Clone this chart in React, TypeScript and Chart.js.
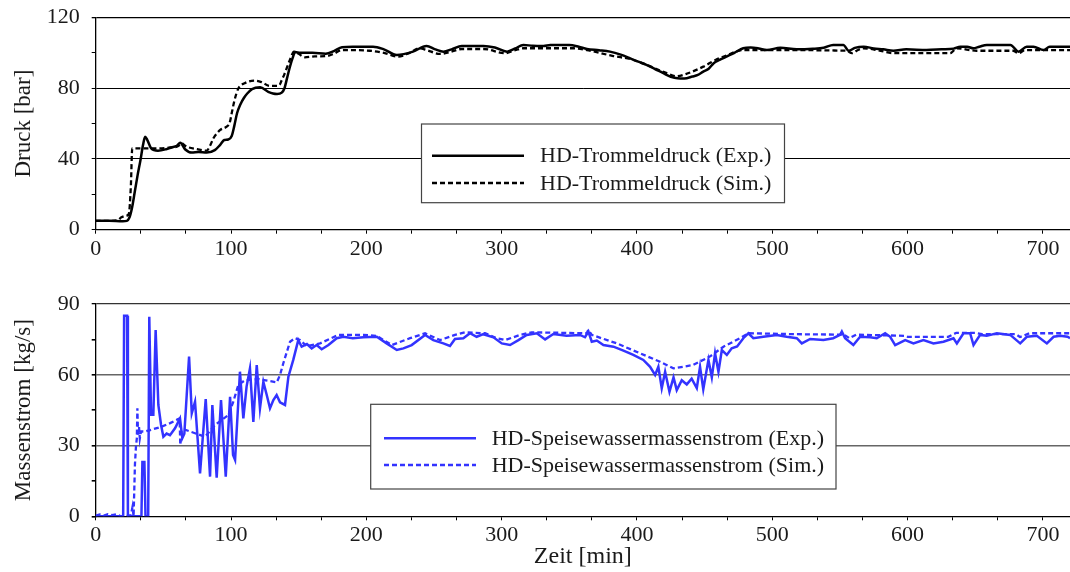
import React, { useEffect, useRef } from "react";
import { Chart, registerables } from "chart.js";

Chart.register(...registerables);

// ---- Data -----------------------------------------------------------------

// HD-Trommeldruck, Experiment [min, bar]
const druckExp: [number, number][] = [
  [0, 5], [10, 5], [20, 4.8], [23, 5], [25, 7], [27, 13], [29, 22], [31, 31], [33, 39], [35, 48],
  [36.5, 52.5], [38, 51], [41, 46], [46, 44.7], [52, 45.5], [56, 46.5], [60, 47.5], [62.5, 49.2],
  [66, 45.5], [71, 43.6], [76, 44], [82, 43.6], [88, 45], [92, 48], [95, 50.7], [98, 51],
  [100.5, 53], [102.5, 59], [104.5, 66], [107, 71], [109.5, 74.5], [112, 77], [115.5, 79.5],
  [121.5, 80.5], [127.5, 78], [131, 77], [134, 76.7], [137.5, 77.5], [139.5, 80], [141.5, 86],
  [143.5, 92], [145.5, 97], [147.5, 100.5], [151, 100], [160, 100], [170, 99.5], [176, 101],
  [182, 103.2], [190, 103.5], [205, 103.5], [213, 102], [222.5, 98.8], [234.5, 100.7],
  [244.5, 103.9], [251, 102], [257, 100.7], [263, 102], [270.5, 103.9], [286.5, 103.9],
  [295, 103], [304, 100.7], [310, 102.5], [316, 104.5], [323, 104], [331, 103.9], [336, 104.5],
  [350, 104.5], [357, 103.5], [363, 102.2], [372, 101.5], [380, 100.7], [388, 99], [395, 96.9],
  [401, 95], [407, 93.2], [413, 91], [419.5, 88.5], [425, 86.5], [430, 85.6], [435, 85.5],
  [441, 86.6], [445, 87.5], [449, 89.4], [453, 91], [456.5, 94], [461, 96], [466.5, 98],
  [472, 100], [478.5, 102.6], [484, 103], [490, 102.5], [496, 101.6], [506, 102.9], [518, 102],
  [530, 102.3], [538, 102.9], [545, 104.5], [552.5, 104.5], [556.5, 101.2], [561, 102.8],
  [567.5, 103.5], [575, 102.5], [582, 102], [589.5, 101.2], [599, 102], [614, 101.6], [625, 102],
  [634, 102.4], [639, 103.5], [644, 103.5], [648.5, 102.6], [653, 103.5], [658.5, 104.5],
  [667, 104.5], [676, 104.5], [682, 100.7], [688, 103.5], [693, 103.5], [700.5, 101.6],
  [705, 103.5], [712, 103.5], [720, 103.5],
];

// HD-Trommeldruck, Simulation [min, bar]
const druckSim: [number, number][] = [
  [0, 5], [10, 5], [16.5, 5.5], [19, 7], [23, 8], [24.5, 9], [26, 25], [27, 46], [30, 46],
  [36, 46], [45, 46], [55, 46.5], [61, 47.3], [63.5, 48.9], [66, 47.5], [68.5, 46.6], [75, 45.5],
  [82, 44.7], [84.5, 47.5], [87, 51.7], [92, 56.4], [96.8, 58.3], [99, 60.5], [100.5, 65.8],
  [102.5, 73], [105.5, 80], [110, 82.8], [117.5, 84.3], [122.5, 83.5], [128.5, 81.3], [134, 81.3],
  [136, 82], [137.5, 84.7], [139.5, 88], [141.5, 92], [144, 97], [146.5, 100.7], [150, 99.5],
  [154.5, 97.5], [162, 98], [170.5, 98.2], [176, 99.5], [182, 101.6], [202.5, 101.2], [213, 100],
  [223.5, 97.9], [232, 100], [239.5, 102.6], [244.5, 101.6], [254.5, 99.4], [262, 100.5],
  [270.5, 102.2], [286.5, 102.2], [302.5, 99.8], [310, 101.5], [316, 102.6], [353, 102.6],
  [363, 101.6], [382.5, 98.2], [395, 96.5], [404.5, 94.1], [414, 91], [422, 88.5], [429.4, 86.8],
  [436, 88], [449, 92.2], [458, 96], [466, 98.5], [478.5, 101.6], [490, 101.6], [555, 101.2],
  [558.8, 99.8], [563, 101.5], [567.4, 102.6], [578, 101.5], [589.5, 99.8], [631.4, 99.8],
  [636.4, 102.6], [651, 101.2], [678, 101.2], [682, 99.8], [687, 101.6], [720, 101.6],
];

// HD-Speisewassermassenstrom, Experiment [min, kg/s]
const massExp: [number, number][] = [
  [0, 0], [20.3, 0], [21, 85], [23.2, 85], [23.8, 0], [33.8, 0], [34.5, 23], [36, 23], [36.8, 0],
  [38.8, 0], [39.6, 84.6], [40.9, 43], [42.6, 43], [44.3, 79], [46.3, 47.2], [48.3, 38.7],
  [50, 33.7], [52.4, 35.1], [54.9, 34.4], [58.6, 37.3], [62.3, 41.5], [64, 33.1], [65.5, 35],
  [69, 67.7], [71, 43.7], [73.4, 48.6], [77.1, 18.2], [81.3, 49.7], [84.5, 16.8], [86.2, 47.2],
  [89.4, 16.4], [92.6, 49.3], [96.1, 16.8], [99.3, 50.7], [101.5, 26], [103, 23.9], [106.6, 61.3],
  [109.1, 41.5], [111.5, 55], [114, 62.7], [116.5, 40], [119, 64.1], [121.4, 45.8], [123.9, 57],
  [126.4, 51.4], [128.8, 45.8], [131.3, 49.3], [133.7, 51.4], [136.2, 48.3], [139.9, 47.2],
  [142.4, 59.2], [146, 66.3], [149.7, 74.7], [152.2, 71.9], [156.1, 73], [159.6, 71.2],
  [163.3, 72.6], [167, 70.8], [172, 72.6], [178.1, 75.5], [183, 76.1], [190, 75.5], [197.8, 75.9],
  [207.7, 76.1], [215, 73.3], [222.5, 70.5], [227.4, 71.2], [233.5, 72.6], [243.4, 76.9],
  [249.5, 74.7], [256.9, 73.3], [261.8, 72.2], [265.5, 75.2], [271.7, 75.5], [276.6, 77.6],
  [281.5, 76.1], [286.5, 77.2], [293.9, 75.9], [300.1, 73.3], [306.2, 72.6], [312.4, 74.7],
  [318.5, 76.9], [326, 77.6], [332.1, 75], [338.2, 77.3], [348, 76.5], [357.9, 76.9],
  [361.6, 75.9], [364.1, 78.3], [366.6, 74], [370.3, 74.5], [375.2, 72.6], [382.6, 71.9],
  [390, 70.2], [397.3, 68.4], [404.7, 66.3], [409.7, 63.4], [413.4, 59.9], [415.8, 63.4],
  [418.3, 54.3], [420.8, 61.3], [424, 52.8], [427, 58.9], [429.4, 53.5], [433.1, 57.7],
  [436.8, 55.9], [440.4, 58.3], [444.2, 54.3], [446.6, 63.4], [449, 53.8], [452.8, 66.3],
  [455.3, 58.9], [457.7, 69.1], [460.2, 61.3], [462.7, 70.5], [466.4, 68.4], [470, 71.2],
  [474, 72], [478.6, 75.5], [482.3, 77.6], [486, 75.5], [493.4, 76.1], [503.3, 76.9],
  [510.6, 76.1], [518.1, 75.5], [521.8, 73.3], [528, 75.2], [537.8, 74.7], [545, 75.5],
  [550.1, 76.9], [551.4, 78.3], [553.8, 75.5], [559.9, 72.6], [564.9, 76.1], [572.3, 75.9],
  [577.2, 75.5], [583.4, 77.6], [587.1, 76.1], [590.8, 72.6], [598.2, 74.7], [604.3, 73.3],
  [611.7, 74.7], [619.1, 73.3], [626.5, 74], [633.9, 75.5], [636.4, 73.3], [641.3, 77.6],
  [646.2, 77.6], [648.7, 72.6], [653.6, 76.9], [658.5, 76.5], [665.9, 77.6], [675.8, 76.9],
  [683.2, 73.3], [688.1, 76.1], [695.5, 76.5], [702.9, 73.3], [707.9, 76.1], [712.8, 76.5],
  [718.2, 76.1], [720, 75.5],
];

// HD-Speisewassermassenstrom, Simulation [min, kg/s]
const massSim: [number, number][] = [
  [0, 0.3], [3, 0.8], [6, 0.3], [9, 0.9], [12, 0.5], [15, 0.8], [18, 0.2], [22, 0], [26, 0.5],
  [27.2, 4], [28, 0], [29, 22], [29.8, 30], [30.4, 33], [30.8, 45.8], [31.3, 34], [32, 38],
  [32.6, 33], [33.5, 36], [36.4, 35.9], [48.8, 38], [55, 39.5], [62, 41.5], [62.5, 30.2],
  [63.5, 36.6], [65.5, 36.8], [73.4, 35.2], [80.8, 33.7], [88.2, 38.7], [98, 42.9],
  [101.7, 48.6], [105.4, 55.7], [110.3, 57.7], [120.2, 58.2], [133.8, 56.8], [136.2, 59.9],
  [138.7, 65], [143.6, 74], [147.3, 75.5], [151, 74.7], [156, 72.2], [165.8, 73.3],
  [179.3, 76.9], [197.8, 76.9], [207.7, 76.5], [218.8, 72.6], [232.3, 75.5], [243.4, 77.6],
  [254.5, 74.7], [265.5, 76.9], [273, 78], [287.7, 77.6], [296.4, 75.5], [302.6, 74.7],
  [313.6, 76.9], [322.2, 78], [362.9, 77.6], [364, 79], [366.6, 76.9], [385.1, 73.3],
  [402.3, 69.1], [417.1, 65.5], [426.9, 62.7], [441.2, 64.1], [453.8, 67.7], [463.9, 71.9],
  [476.2, 75.5], [482.3, 77.6], [518, 77.2], [553, 77], [557, 75.5], [562, 77], [598, 76.5],
  [600, 76.1], [630, 76.1], [636, 77.8], [650, 77.8], [655, 77.2], [680, 77.2], [683, 76],
  [690, 77.6], [720, 77.6],
];

// Axis ticks
const timeLabels = [0, 100, 200, 300, 400, 500, 600, 700];
const druckLabels = [0, 40, 80, 120];
const massLabels = [0, 30, 60, 90];

// ---- Styling --------------------------------------------------------------

const W = 1070;
const TOP_H = 290;
const BOT_H = 282;
const AXIS_LEFT = 95.7;
const FONT = "'Liberation Serif', 'Times New Roman', serif";
const TEXT = "#1a1a1a";
const BLUE = "rgb(51,51,255)";
const DASH = [5, 3];

// major ticks with two unlabeled minor ticks in between
const timeTickValues = (() => {
  const out: number[] = [];
  for (let i = 0; i < timeLabels.length; i++) {
    const v = timeLabels[i];
    out.push(v);
    const next = timeLabels[i + 1];
    if (next !== undefined) {
      out.push(v + (next - v) / 3, v + (2 * (next - v)) / 3);
    }
  }
  return out;
})();

// one unlabeled minor tick halfway between labeled ones
const withMidTicks = (labels: number[]) => {
  const out: number[] = [];
  labels.forEach((v, i) => {
    out.push(v);
    if (i < labels.length - 1) out.push((v + labels[i + 1]) / 2);
  });
  return out;
};

const isLabel = (labels: number[], v: number) => labels.some((l) => Math.abs(l - v) < 1e-6);

const toXY = (pts: [number, number][]) => pts.map(([x, y]) => ({ x, y }));

type LegendGeom = {
  box: [number, number, number, number];
  lineX: [number, number];
  rows: number[];
  textX: number;
};

const boxLegend = (geom: LegendGeom) => ({
  id: "boxLegend",
  afterDatasetsDraw(chart: any) {
    const ctx: CanvasRenderingContext2D = chart.ctx;
    const [x0, y0, x1, y1] = geom.box;
    ctx.save();
    ctx.fillStyle = "#ffffff";
    ctx.fillRect(x0, y0, x1 - x0, y1 - y0);
    ctx.strokeStyle = "#444444";
    ctx.lineWidth = 1.2;
    ctx.strokeRect(x0, y0, x1 - x0, y1 - y0);
    chart.data.datasets.forEach((ds: any, i: number) => {
      const y = geom.rows[i];
      ctx.beginPath();
      ctx.strokeStyle = ds.borderColor;
      ctx.lineWidth = ds.borderWidth;
      ctx.setLineDash(ds.borderDash || []);
      ctx.moveTo(geom.lineX[0], y);
      ctx.lineTo(geom.lineX[1], y);
      ctx.stroke();
      ctx.setLineDash([]);
      ctx.fillStyle = TEXT;
      ctx.font = `22px ${FONT}`;
      ctx.textBaseline = "middle";
      ctx.textAlign = "left";
      ctx.fillText(ds.label, geom.textX, y + 1);
    });
    ctx.restore();
  },
});

const xScale = (canvasH: number, areaBottom: number, title?: string) => ({
  type: "linear" as const,
  min: 0,
  max: 720,
  afterBuildTicks: (s: any) => {
    s.ticks = timeTickValues.map((value) => ({ value }));
  },
  afterFit: (s: any) => {
    s.height = canvasH - areaBottom;
    s.paddingLeft = 0;
    s.paddingRight = 0;
  },
  ticks: {
    autoSkip: false,
    maxRotation: 0,
    padding: 2,
    color: TEXT,
    font: { family: FONT, size: 22 },
    callback: (v: any) => (isLabel(timeLabels, Number(v)) ? String(Math.round(Number(v))) : ""),
  },
  grid: { drawOnChartArea: false, tickLength: 4, tickColor: "#000", color: "#000", lineWidth: 1 },
  border: { color: "#000", width: 1.3 },
  title: title
    ? {
        display: true,
        text: title,
        color: TEXT,
        font: { family: FONT, size: 24 },
        padding: { top: 0, bottom: 1 },
      }
    : { display: false },
});

const yScale = (
  max: number,
  labels: number[],
  title: string,
  gridColor: string,
  gridWidth: number,
  frameColor: string
) => ({
  type: "linear" as const,
  min: 0,
  max,
  afterBuildTicks: (s: any) => {
    s.ticks = withMidTicks(labels).map((value) => ({ value }));
  },
  afterFit: (s: any) => {
    s.width = AXIS_LEFT;
    s.paddingTop = 0;
    s.paddingBottom = 0;
  },
  ticks: {
    autoSkip: false,
    padding: 12,
    color: TEXT,
    font: { family: FONT, size: 22 },
    callback: (v: any) => (isLabel(labels, Number(v)) ? String(v) : ""),
  },
  grid: {
    tickLength: 4,
    tickColor: "#000",
    color: (c: any) => {
      const v = c.tick ? c.tick.value : 0;
      if (v === max) return frameColor;
      if (v > 0 && isLabel(labels, v)) return gridColor;
      return "rgba(0,0,0,0)";
    },
    lineWidth: (c: any) => (c.tick && c.tick.value === max ? 1.3 : gridWidth),
  },
  border: { color: "#000", width: 1.3 },
  title: {
    display: true,
    text: title,
    color: TEXT,
    font: { family: FONT, size: 23 },
    padding: { top: 10, bottom: 0 },
  },
});

const App: React.FC = () => {
  const topRef = useRef<HTMLCanvasElement>(null);
  const botRef = useRef<HTMLCanvasElement>(null);

  useEffect(() => {
    if (!topRef.current || !botRef.current) return;

    const topArea = { top: 17.5, bottom: 229.7 };
    const botArea = { top: 14, bottom: 226.3 };

    const top = new Chart(topRef.current, {
      type: "line",
      data: {
        datasets: [
          {
            label: "HD-Trommeldruck (Exp.)",
            data: toXY(druckExp),
            borderColor: "#000000",
            borderWidth: 2.5,
            pointRadius: 0,
            cubicInterpolationMode: "monotone",
            fill: false,
          },
          {
            label: "HD-Trommeldruck (Sim.)",
            data: toXY(druckSim),
            borderColor: "#000000",
            borderWidth: 2.3,
            borderDash: DASH,
            pointRadius: 0,
            cubicInterpolationMode: "monotone",
            fill: false,
          },
        ],
      },
      options: {
        responsive: false,
        animation: false,
        events: [],
        layout: { padding: { top: topArea.top, left: 0, right: 0, bottom: 0 } },
        plugins: { legend: { display: false }, tooltip: { enabled: false } },
        scales: {
          x: xScale(TOP_H, topArea.bottom),
          y: yScale(120, druckLabels, "Druck [bar]", "#000000", 1, "#000000"),
        },
      } as any,
      plugins: [
        boxLegend({ box: [421.5, 124, 784.5, 202.7], lineX: [432, 524], rows: [155.7, 183], textX: 540 }),
      ],
    });

    const bot = new Chart(botRef.current, {
      type: "line",
      data: {
        datasets: [
          {
            label: "HD-Speisewassermassenstrom (Exp.)",
            data: toXY(massExp),
            borderColor: BLUE,
            borderWidth: 2.5,
            pointRadius: 0,
            tension: 0,
            fill: false,
          },
          {
            label: "HD-Speisewassermassenstrom (Sim.)",
            data: toXY(massSim),
            borderColor: BLUE,
            borderWidth: 2.3,
            borderDash: DASH,
            pointRadius: 0,
            tension: 0,
            fill: false,
          },
        ],
      },
      options: {
        responsive: false,
        animation: false,
        events: [],
        layout: { padding: { top: botArea.top, left: 0, right: 0, bottom: 0 } },
        plugins: { legend: { display: false }, tooltip: { enabled: false } },
        scales: {
          x: xScale(BOT_H, botArea.bottom, "Zeit [min]"),
          y: yScale(90, massLabels, "Massenstrom [kg/s]", "#666666", 1.6, "#333333"),
        },
      } as any,
      plugins: [
        boxLegend({ box: [370.7, 114.3, 836, 199], lineX: [384, 476], rows: [148.3, 175], textX: 491.7 }),
      ],
    });

    return () => {
      top.destroy();
      bot.destroy();
    };
  }, []);

  return (
    <div
      style={{
        position: "absolute",
        left: 0,
        top: 0,
        width: W,
        height: TOP_H + BOT_H,
        background: "#ffffff",
        overflow: "hidden",
      }}
    >
      <canvas
        ref={topRef}
        width={W}
        height={TOP_H}
        style={{ position: "absolute", left: 0, top: 0, width: W, height: TOP_H }}
      />
      <canvas
        ref={botRef}
        width={W}
        height={BOT_H}
        style={{ position: "absolute", left: 0, top: TOP_H, width: W, height: BOT_H }}
      />
    </div>
  );
};

export default App;
